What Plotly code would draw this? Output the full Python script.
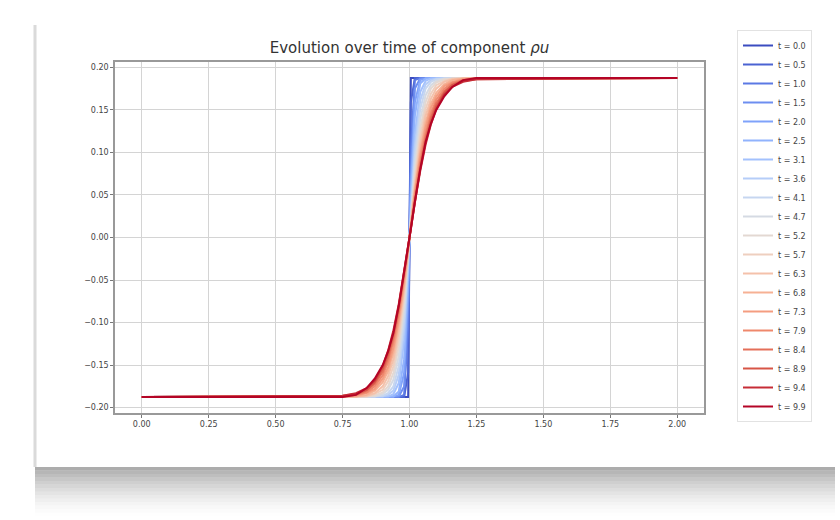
import plotly.graph_objects as go
from plotly.colors import sample_colorscale

# ---------------- data ----------------
X = [0.0, 0.75, 0.80, 0.84, 0.87, 0.90, 0.92, 0.94, 0.96, 0.98, 0.995, 1.0,
     1.005, 1.02, 1.04, 1.06, 1.08, 1.10, 1.13, 1.16, 1.20, 1.25, 2.0]

T_LABELS = ["t = 0.0", "t = 0.5", "t = 1.0", "t = 1.5", "t = 2.0", "t = 2.5",
            "t = 3.1", "t = 3.6", "t = 4.1", "t = 4.7", "t = 5.2", "t = 5.7",
            "t = 6.3", "t = 6.8", "t = 7.3", "t = 7.9", "t = 8.4", "t = 8.9",
            "t = 9.4", "t = 9.9"]

rho_u_t0_0 = [-0.1875, -0.1875, -0.1875, -0.1875, -0.1875, -0.1875, -0.1875, -0.1875, -0.1875, -0.1875, -0.1875, 0.0,
              0.1875, 0.1875, 0.1875, 0.1875, 0.1875, 0.1875, 0.1875, 0.1875, 0.1875, 0.1875, 0.1875]
rho_u_t0_5 = [-0.1875, -0.1875, -0.1875, -0.1875, -0.1875, -0.1875, -0.1875, -0.1875, -0.1875, -0.1875, -0.159, 0.0,
              0.159, 0.1875, 0.1875, 0.1875, 0.1875, 0.1875, 0.1875, 0.1875, 0.1875, 0.1875, 0.1875]
rho_u_t1_0 = [-0.1875, -0.1875, -0.1875, -0.1875, -0.1875, -0.1875, -0.1875, -0.1875, -0.1875, -0.185, -0.104, 0.0,
              0.104, 0.185, 0.1875, 0.1875, 0.1875, 0.1875, 0.1875, 0.1875, 0.1875, 0.1875, 0.1875]
rho_u_t1_5 = [-0.1875, -0.1875, -0.1875, -0.1875, -0.1875, -0.1875, -0.1875, -0.1875, -0.187, -0.175, -0.074, 0.0,
              0.074, 0.175, 0.187, 0.1875, 0.1875, 0.1875, 0.1875, 0.1875, 0.1875, 0.1875, 0.1875]
rho_u_t2_0 = [-0.1875, -0.1875, -0.1875, -0.1875, -0.1875, -0.1875, -0.1875, -0.187, -0.185, -0.159, -0.057, 0.0,
              0.057, 0.159, 0.185, 0.187, 0.1875, 0.1875, 0.1875, 0.1875, 0.1875, 0.1875, 0.1875]
rho_u_t2_5 = [-0.1875, -0.1875, -0.1875, -0.1875, -0.1875, -0.1875, -0.1875, -0.187, -0.181, -0.143, -0.046, 0.0,
              0.046, 0.143, 0.181, 0.187, 0.1875, 0.1875, 0.1875, 0.1875, 0.1875, 0.1875, 0.1875]
rho_u_t3_1 = [-0.1875, -0.1875, -0.1875, -0.1875, -0.1875, -0.1875, -0.187, -0.184, -0.171, -0.121, -0.036, 0.0,
              0.036, 0.121, 0.171, 0.184, 0.187, 0.1875, 0.1875, 0.1875, 0.1875, 0.1875, 0.1875]
rho_u_t3_6 = [-0.1875, -0.1875, -0.1875, -0.1875, -0.1875, -0.187, -0.185, -0.180, -0.161, -0.107, -0.030, 0.0,
              0.030, 0.107, 0.161, 0.180, 0.185, 0.187, 0.1875, 0.1875, 0.1875, 0.1875, 0.1875]
rho_u_t4_1 = [-0.1875, -0.1875, -0.1875, -0.1875, -0.187, -0.186, -0.183, -0.175, -0.151, -0.095, -0.026, 0.0,
              0.026, 0.095, 0.151, 0.175, 0.183, 0.186, 0.187, 0.1875, 0.1875, 0.1875, 0.1875]
rho_u_t4_7 = [-0.1875, -0.1875, -0.1875, -0.187, -0.187, -0.184, -0.179, -0.167, -0.139, -0.083, -0.022, 0.0,
              0.022, 0.083, 0.139, 0.167, 0.179, 0.184, 0.187, 0.187, 0.1875, 0.1875, 0.1875]
rho_u_t5_2 = [-0.1875, -0.1875, -0.1875, -0.187, -0.186, -0.182, -0.175, -0.159, -0.128, -0.074, -0.019, 0.0,
              0.019, 0.074, 0.128, 0.159, 0.175, 0.182, 0.186, 0.187, 0.1875, 0.1875, 0.1875]
rho_u_t5_7 = [-0.1875, -0.1875, -0.187, -0.187, -0.184, -0.179, -0.169, -0.151, -0.118, -0.066, -0.017, 0.0,
              0.017, 0.066, 0.118, 0.151, 0.169, 0.179, 0.184, 0.187, 0.187, 0.1875, 0.1875]
rho_u_t6_3 = [-0.1875, -0.1875, -0.187, -0.186, -0.183, -0.175, -0.163, -0.143, -0.109, -0.060, -0.016, 0.0,
              0.016, 0.060, 0.109, 0.143, 0.163, 0.175, 0.183, 0.186, 0.187, 0.1875, 0.1875]
rho_u_t6_8 = [-0.1875, -0.187, -0.187, -0.185, -0.180, -0.170, -0.157, -0.135, -0.101, -0.055, -0.014, 0.0,
              0.014, 0.055, 0.101, 0.135, 0.157, 0.170, 0.180, 0.185, 0.187, 0.187, 0.1875]
rho_u_t7_3 = [-0.1875, -0.187, -0.186, -0.183, -0.178, -0.166, -0.152, -0.129, -0.096, -0.052, -0.013, 0.0,
              0.013, 0.052, 0.096, 0.129, 0.152, 0.166, 0.178, 0.183, 0.186, 0.187, 0.1875]
rho_u_t7_9 = [-0.1875, -0.187, -0.185, -0.182, -0.175, -0.162, -0.146, -0.122, -0.089, -0.048, -0.012, 0.0,
              0.012, 0.048, 0.089, 0.122, 0.146, 0.162, 0.175, 0.182, 0.185, 0.187, 0.1875]
rho_u_t8_4 = [-0.1875, -0.187, -0.185, -0.180, -0.172, -0.158, -0.141, -0.117, -0.085, -0.045, -0.011, 0.0,
              0.011, 0.045, 0.085, 0.117, 0.141, 0.158, 0.172, 0.180, 0.185, 0.187, 0.1875]
rho_u_t8_9 = [-0.1875, -0.186, -0.184, -0.179, -0.170, -0.154, -0.137, -0.113, -0.081, -0.043, -0.011, 0.0,
              0.011, 0.043, 0.081, 0.113, 0.137, 0.154, 0.170, 0.179, 0.184, 0.186, 0.1875]
rho_u_t9_4 = [-0.1875, -0.186, -0.183, -0.177, -0.168, -0.151, -0.133, -0.109, -0.078, -0.041, -0.010, 0.0,
              0.010, 0.041, 0.078, 0.109, 0.133, 0.151, 0.168, 0.177, 0.183, 0.186, 0.1875]
rho_u_t9_9 = [-0.1875, -0.1875, -0.185, -0.177, -0.166, -0.150, -0.134, -0.112, -0.080, -0.042, -0.010, 0.0,
              0.010, 0.042, 0.080, 0.112, 0.134, 0.150, 0.166, 0.177, 0.185, 0.1875, 0.1875]

SERIES = [rho_u_t0_0, rho_u_t0_5, rho_u_t1_0, rho_u_t1_5, rho_u_t2_0, rho_u_t2_5,
          rho_u_t3_1, rho_u_t3_6, rho_u_t4_1, rho_u_t4_7, rho_u_t5_2, rho_u_t5_7,
          rho_u_t6_3, rho_u_t6_8, rho_u_t7_3, rho_u_t7_9, rho_u_t8_4, rho_u_t8_9,
          rho_u_t9_4, rho_u_t9_9]

X_TICKS = [0.0, 0.25, 0.5, 0.75, 1.0, 1.25, 1.5, 1.75, 2.0]
X_TICK_TEXT = ["0.00", "0.25", "0.50", "0.75", "1.00", "1.25", "1.50", "1.75", "2.00"]
Y_TICKS = [-0.20, -0.15, -0.10, -0.05, 0.0, 0.05, 0.10, 0.15, 0.20]
Y_TICK_TEXT = ["\u22120.20", "\u22120.15", "\u22120.10", "\u22120.05", "0.00", "0.05", "0.10", "0.15", "0.20"]

# ---------------- style ----------------
COOLWARM = [[0.0, "#3b4cc0"], [0.1, "#5977e3"], [0.2, "#7b9ff9"], [0.3, "#9ebeff"],
            [0.4, "#c0d4f5"], [0.5, "#dddcdc"], [0.6, "#f2cbb7"], [0.7, "#f7ac8e"],
            [0.8, "#ee8468"], [0.9, "#d65244"], [1.0, "#b40426"]]
n = len(SERIES)
colors = sample_colorscale(COOLWARM, [i / (n - 1) for i in range(n)])

fig = go.Figure()
for ys, lab, col in zip(SERIES, T_LABELS, colors):
    fig.add_trace(go.Scatter(x=X, y=ys, mode="lines", name=lab,
                             line=dict(color=col, width=2)))

# plot area in pixels
L, R, T, B = 115, 704, 62, 413
W, H = 840, 520


def px(xp):
    return (xp - L) / (R - L)


def py(yp):
    return (B - yp) / (B - T)


shapes = []
# card left edge
shapes.append(dict(type="line", xref="paper", yref="paper",
                   x0=px(35), x1=px(35), y0=py(25), y1=py(467),
                   line=dict(color="#dadada", width=3), layer="below"))
# shadow under the card
for k in range(14):
    op = 0.5 * (1 - k / 14) ** 1.6
    shapes.append(dict(type="rect", xref="paper", yref="paper",
                       x0=px(35), x1=px(835), y0=py(467 + 3.5 * k), y1=py(467 + 3.5 * (k + 1)),
                       fillcolor="rgba(90,90,90,%.3f)" % op, line=dict(width=0),
                       layer="below"))

fig.update_layout(
    width=W, height=H,
    margin=dict(l=L, r=W - R, t=T, b=H - B, autoexpand=False),
    paper_bgcolor="white", plot_bgcolor="white",
    font=dict(family="DejaVu Sans", size=8, color="#444"),
    title=dict(text="Evolution over time of component <i>\u03c1u</i>",
               x=0.5, xref="paper", xanchor="center",
               y=1 - 48 / H, yref="container", yanchor="middle",
               font=dict(size=15, color="#333", family="DejaVu Sans")),
    xaxis=dict(range=[-0.1, 2.1], tickvals=X_TICKS, ticktext=X_TICK_TEXT,
               showgrid=True, gridcolor="#d4d4d4", gridwidth=1,
               showline=True, mirror=True, linecolor="#999", linewidth=1.5,
               ticks="outside", ticklen=3, tickcolor="#777", zeroline=False),
    yaxis=dict(range=[-0.2063, 0.2063], tickvals=Y_TICKS, ticktext=Y_TICK_TEXT,
               showgrid=True, gridcolor="#d4d4d4", gridwidth=1,
               showline=True, mirror=True, linecolor="#999", linewidth=1.5,
               ticks="outside", ticklen=3, tickcolor="#777", zeroline=False),
    legend=dict(x=px(737), xanchor="left",
                y=1 - 226 / H, yanchor="middle", yref="container",
                maxheight=500,
                font=dict(size=8, color="#444"), bordercolor="#e2e2e2",
                borderwidth=1, bgcolor="white", tracegroupgap=0, itemwidth=30),
    shapes=shapes,
    showlegend=True,
)

fig.write_html("out.html")
